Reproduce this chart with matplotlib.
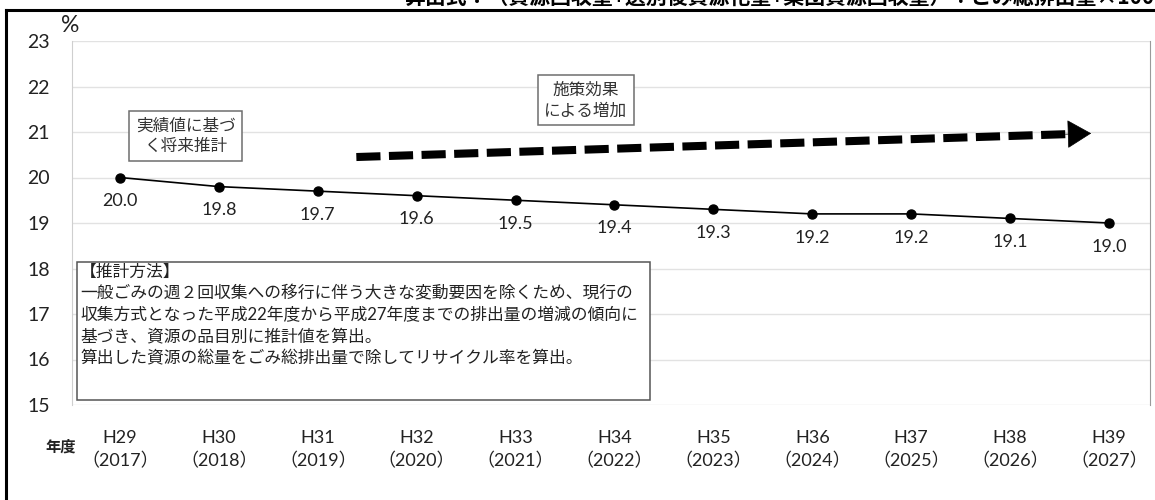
import matplotlib
matplotlib.use("Agg")
import matplotlib.pyplot as plt
from matplotlib.lines import Line2D

plt.rcParams['font.family'] = ['Lato', 'Noto Sans CJK JP', 'DejaVu Sans']

# 年度とリサイクル率（%）
heisei = ["H29", "H30", "H31", "H32", "H33", "H34", "H35", "H36", "H37", "H38", "H39"]
seireki = ["2017", "2018", "2019", "2020", "2021", "2022", "2023", "2024", "2025", "2026", "2027"]
rate = [20.0, 19.8, 19.7, 19.6, 19.5, 19.4, 19.3, 19.2, 19.2, 19.1, 19.0]
y_ticks = [15, 16, 17, 18, 19, 20, 21, 22, 23]

# 施策効果の矢印（始点・先端）
arrow_x = [2.39, 9.82]
arrow_y = [20.45, 20.97]

formula = "算出式：（資源回収量+選別後資源化量+集団資源回収量）÷ごみ総排出量×100"
method_text = ("【推計方法】\n"
               "一般ごみの週２回収集への移行に伴う大きな変動要因を除くため、現行の\n"
               "収集方式となった平成22年度から平成27年度までの排出量の増減の傾向に\n"
               "基づき、資源の品目別に推計値を算出。\n"
               "算出した資源の総量をごみ総排出量で除してリサイクル率を算出。")

TXT = "#222222"
fig = plt.figure(figsize=(11.55, 5.0), dpi=100)
ax = fig.add_axes([72 / 1155, 1 - 405 / 500, (1150 - 72) / 1155, (405 - 41) / 500])

x = list(range(len(rate)))
ax.plot(x, rate, color="black", lw=1.2, marker="o", ms=6.5, zorder=4)
for xi, v in zip(x, rate):
    ax.annotate(f"{v:.1f}", (xi, v), xytext=(0, -17), textcoords="offset points",
                ha="center", va="center", fontsize=13, color=TXT, zorder=5)

ax.set_xlim(-0.485, 10.415)
ax.set_ylim(15, 23)
ax.set_yticks(y_ticks)
ax.set_yticklabels([str(t) for t in y_ticks], fontsize=14, color=TXT)
ax.set_xticks(x)
ax.set_xticklabels([f"{h}\n（{s}）" for h, s in zip(heisei, seireki)],
                   fontsize=13, color=TXT, linespacing=1.4)
ax.tick_params(axis="y", length=0, pad=16)
ax.tick_params(axis="x", length=0, pad=18)
ax.grid(axis="y", color="#e2e2e2", lw=1)
ax.set_axisbelow(True)
for side in ["top", "bottom"]:
    ax.spines[side].set_visible(False)
ax.spines["left"].set_color("#cfcfcf")
ax.spines["right"].set_color("#9a9a9a")

# 単位と年度ラベル
fig.text(70 / 1155, 1 - 26 / 500, "%", fontsize=16.5, ha="center", va="center", color=TXT)
fig.text(61 / 1155, 1 - 447 / 500, "年度", fontsize=11, ha="center", va="center",
         color=TXT, fontweight="bold")

# 施策効果の矢印：破線の軸と三角形の先端
head_len = 0.24
dx = arrow_x[1] - arrow_x[0]
dy = arrow_y[1] - arrow_y[0]
base_x = arrow_x[1] - head_len
base_y = arrow_y[1] - head_len * dy / dx
ax.plot([arrow_x[0], base_x], [arrow_y[0], base_y], color="black", lw=5.8,
        dash_capstyle="butt", dashes=(3.0, 1.05), zorder=3)
ax.annotate("", xy=(arrow_x[1], arrow_y[1]), xytext=(base_x - 0.02, base_y - 0.02 * dy / dx),
            arrowprops=dict(arrowstyle="-|>,head_length=1.6,head_width=0.95",
                            mutation_scale=10, color="black", lw=0.5,
                            shrinkA=0, shrinkB=0), zorder=3)

box_style = dict(boxstyle="square,pad=0.4", fc="white", ec="#6e6e6e", lw=1.1)
ax.text(0.667, 20.91, "実績値に基づ\nく将来推計", ha="center", va="center", fontsize=12,
        color="#333333", linespacing=1.35, bbox=box_style, zorder=6)
ax.text(4.71, 21.70, "施策効果\nによる増加", ha="center", va="center", fontsize=12,
        color="#333333", linespacing=1.35, bbox=box_style, zorder=6)

# 推計方法の説明枠
ax.add_patch(plt.Rectangle((77 / 1155, 1 - 400 / 500), (650 - 77) / 1155, (400 - 262) / 500,
                           transform=fig.transFigure, fc="white", ec="#555555", lw=1.1,
                           zorder=5, clip_on=False))
fig.text(80 / 1155, 1 - 264 / 500, method_text, ha="left", va="top", fontsize=12.1,
         color=TXT, linespacing=1.42, zorder=6)

# 外枠と上部の算出式
fig.add_artist(Line2D([6 / 1155, 1], [1 - 10 / 500, 1 - 10 / 500], color="black", lw=2.2,
                      transform=fig.transFigure))
fig.add_artist(Line2D([6 / 1155, 6 / 1155], [0, 1 - 10 / 500], color="black", lw=2.2,
                      transform=fig.transFigure))
fig.text(405 / 1155, 1 + 3 / 500, formula, ha="left", va="center", fontsize=15,
         fontweight="bold", color="black", family=["Noto Sans CJK JP", "DejaVu Sans"])

fig.savefig("out.png", dpi=100)
